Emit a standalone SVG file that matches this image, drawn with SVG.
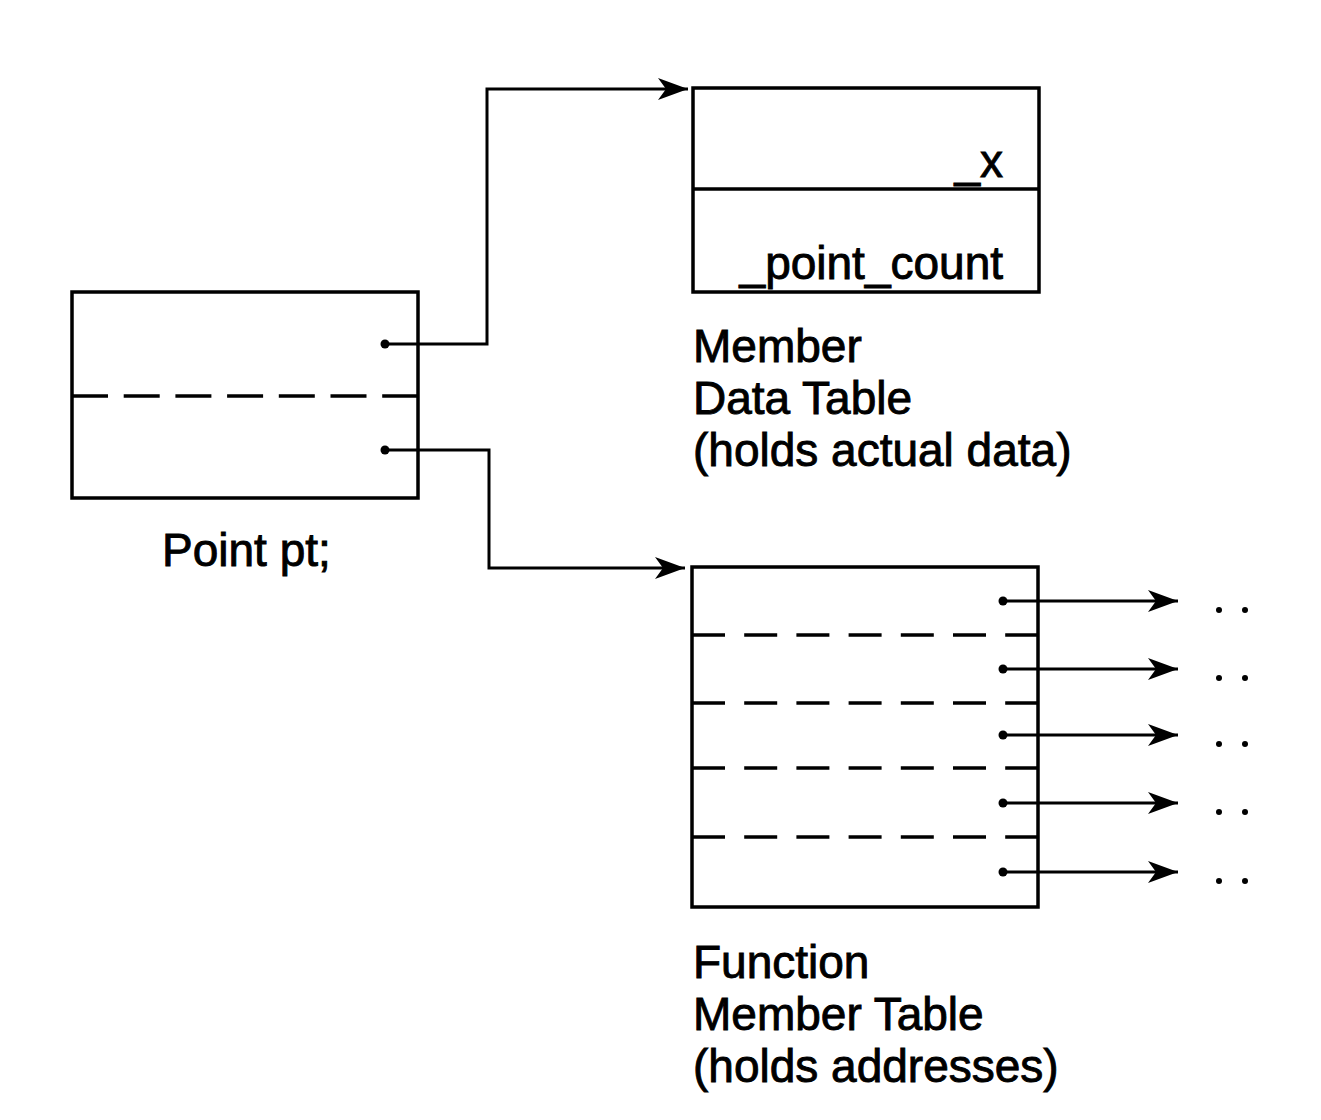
<svg xmlns="http://www.w3.org/2000/svg" width="1321" height="1120" viewBox="0 0 1321 1120">
<style>
.box{fill:none;stroke:#000;stroke-width:3.5}
.dash{fill:none;stroke:#000;stroke-width:3.5}
.conn{fill:none;stroke:#000;stroke-width:3}
.lbl{font-family:"Liberation Sans",Arial,sans-serif;font-size:46px;fill:#000;stroke:#000;stroke-width:0.9}
.dot{fill:#000}
</style>
<defs>
<marker id="arr" viewBox="-32 -12 34 24" refX="0" refY="0" markerWidth="34" markerHeight="24" markerUnits="userSpaceOnUse" orient="auto">
<path d="M0,0 L-30,-11 L-22,0 L-30,11 Z" fill="#000"/>
</marker>
</defs>
<rect width="1321" height="1120" fill="#fff"/>
<g id="point-pt">
<rect class="box" x="72" y="292" width="346" height="206"/>
<line class="dash" x1="72" y1="396" x2="418" y2="396" stroke-dasharray="36 15.7"/>
<text class="lbl" x="162" y="566">Point pt;</text>
</g>
<g id="member-data-table">
<rect class="box" x="693" y="88" width="346" height="204"/>
<line class="box" x1="693" y1="189" x2="1039" y2="189"/>
<text class="lbl" x="1003" y="177" text-anchor="end">_x</text>
<text class="lbl" x="1003" y="279" text-anchor="end">_point_count</text>
<text class="lbl" x="693" y="362">Member</text>
<text class="lbl" x="693" y="414">Data Table</text>
<text class="lbl" x="693" y="466">(holds actual data)</text>
</g>
<g id="function-member-table">
<rect class="box" x="692" y="567" width="346" height="340"/>
<line class="dash" x1="692" y1="635" x2="1038" y2="635" stroke-dasharray="33 19.2"/>
<line class="dash" x1="692" y1="703" x2="1038" y2="703" stroke-dasharray="33 19.2"/>
<line class="dash" x1="692" y1="768" x2="1038" y2="768" stroke-dasharray="33 19.2"/>
<line class="dash" x1="692" y1="837" x2="1038" y2="837" stroke-dasharray="33 19.2"/>
<text class="lbl" x="693" y="978">Function</text>
<text class="lbl" x="693" y="1030">Member Table</text>
<text class="lbl" x="693" y="1082">(holds addresses)</text>
<g class="dot">
<circle cx="1219" cy="610" r="3"/><circle cx="1245" cy="610" r="3"/>
<circle cx="1219" cy="678" r="3"/><circle cx="1245" cy="678" r="3"/>
<circle cx="1219" cy="744" r="3"/><circle cx="1245" cy="744" r="3"/>
<circle cx="1219" cy="812" r="3"/><circle cx="1245" cy="812" r="3"/>
<circle cx="1219" cy="881" r="3"/><circle cx="1245" cy="881" r="3"/>
</g>
</g>
<g id="connectors">
<path class="conn" d="M385,344 H487 V89 H688" marker-end="url(#arr)"/>
<path class="conn" d="M385,450 H489 V568 H685" marker-end="url(#arr)"/>
<path class="conn" d="M1003,601 H1178" marker-end="url(#arr)"/>
<path class="conn" d="M1003,669 H1178" marker-end="url(#arr)"/>
<path class="conn" d="M1003,735 H1178" marker-end="url(#arr)"/>
<path class="conn" d="M1003,803 H1178" marker-end="url(#arr)"/>
<path class="conn" d="M1003,872 H1178" marker-end="url(#arr)"/>
<g class="dot">
<circle cx="385" cy="344" r="4.5"/>
<circle cx="385" cy="450" r="4.5"/>
<circle cx="1003" cy="601" r="4.5"/>
<circle cx="1003" cy="669" r="4.5"/>
<circle cx="1003" cy="735" r="4.5"/>
<circle cx="1003" cy="803" r="4.5"/>
<circle cx="1003" cy="872" r="4.5"/>
</g>
</g>
</svg>
